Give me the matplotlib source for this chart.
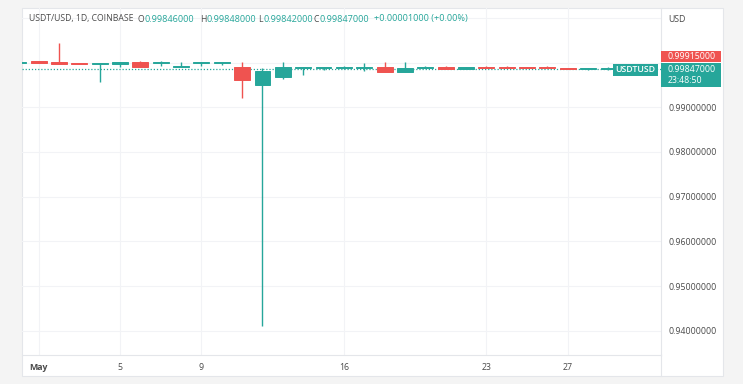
import matplotlib
matplotlib.use("Agg")
import matplotlib.pyplot as plt
from matplotlib.patches import Rectangle
import numpy as np

plt.rcParams['font.family'] = ['Open Sans', 'DejaVu Sans']

# ---- data (day of May; 0 = Apr 30) ----
days   = [0, 1, 2, 3, 4, 5, 6, 7, 8, 9, 10, 11, 12, 13, 14, 15, 16, 17, 18, 19, 20,
          21, 22, 23, 24, 25, 26, 27, 28, 29, 30]
opens  = [1.0000, 1.0004, 1.0001, 1.0000, 0.99975, 0.9996, 1.0001, 0.99995, 0.9990, 1.0000, 1.0000,
          0.9991, 0.9950, 0.99685, 0.9989, 0.9989, 0.9989, 0.9989, 0.99895, 0.99796, 0.99872,
          0.9990, 0.99857, 0.99908, 0.99908, 0.9990, 0.9990, 0.99886, 0.9985, 0.9985, 0.99846]
highs  = [1.0002, 1.0004, 1.0043, 1.0000, 1.0000, 1.0002, 1.0004, 1.0004, 1.0001, 1.0001, 1.0001,
          1.0002, 0.9989, 1.0001, 0.9990, 0.9990, 0.9992, 0.99984, 1.0001, 1.0001, 0.9993,
          0.9993, 0.9991, 0.9992, 0.9992, 0.9991, 0.9993, 0.9989, 0.9989, 0.9990, 0.99848]
lows   = [0.9999, 0.9998, 0.9997, 0.9996, 0.9957, 0.9991, 0.9990, 0.9992, 0.9990, 0.9992, 0.9994,
          0.9920, 0.9411, 0.9963, 0.9972, 0.9983, 0.9985, 0.99819, 0.99796, 0.99796, 0.99872,
          0.9986, 0.9985, 0.9988, 0.9988, 0.9987, 0.9987, 0.9985, 0.9984, 0.9984, 0.99842]
closes = [1.0002, 0.9998, 0.9997, 0.9997, 0.99998, 1.0001, 0.9990, 1.00005, 0.99915, 1.0001, 1.0001,
          0.9961, 0.9981, 0.9991, 0.99895, 0.99895, 0.99895, 0.99895, 0.99796, 0.99872, 0.99895,
          0.9986, 0.99902, 0.99886, 0.99886, 0.9988, 0.9988, 0.9985, 0.9988, 0.9989, 0.99847]

tick_days   = [1, 5, 9, 16, 23, 27]
tick_labels = ['May', '5', '9', '16', '23', '27']
price_ticks = [0.94, 0.95, 0.96, 0.97, 0.98, 0.99, 1.00, 1.01]
labeled_max = 0.99          # higher levels are hidden behind the price badges / header
prev_label  = 0.99915
countdown   = '23:48:50'
symbol      = 'USDT/USD, 1D, COINBASE'
short_sym   = 'USDTUSD'

UP = '#26a69a'
DN = '#ef5350'
GRID = '#f2f3f6'
BORDER = '#e4e6ea'
TXT = '#4a4a4a'
FS = 6.3      # axis / badge text
HFS = 6.2     # header letters
VFS = 6.6     # header numbers

W, H = 743, 384
fig = plt.figure(figsize=(W / 100, H / 100), dpi=100, facecolor='#f4f4f4')

def px_axes(x0, y0, x1, y1, **kw):
    return fig.add_axes([x0 / W, 1 - y1 / H, (x1 - x0) / W, (y1 - y0) / H], **kw)

# background container
bg = px_axes(0, 0, W, H)
bg.set_xlim(0, W); bg.set_ylim(H, 0); bg.axis('off')
bg.add_patch(Rectangle((22, 8), 701, 368, facecolor='white', edgecolor=BORDER, lw=0.8))

# main chart
ax = px_axes(22, 8, 661, 355)
ax.set_facecolor('none')
ax.set_xlim(0.184, 31.58)
ax.set_ylim(0.93459, 1.01221)

d = np.array(days, float)
o = np.array(opens); c = np.array(closes); h = np.array(highs); l = np.array(lows)
cols = [UP if ci >= oi else DN for oi, ci in zip(o, c)]
ax.vlines(d, l, h, colors=cols, lw=1.0, zorder=3)
bottoms = np.minimum(o, c)
heights = np.abs(c - o)
ax.bar(d, heights, bottom=bottoms, width=0.78, color=cols, edgecolor=cols, lw=0.7, zorder=4)

ax.axhline(closes[-1], color=UP, ls=(0, (1, 1.5)), lw=0.9, zorder=2)

ax.set_xticks(tick_days)
ax.set_xticklabels(tick_labels)
ax.get_xticklabels()[0].set_fontweight('bold')
ax.set_yticks(price_ticks)
ax.set_yticklabels([f'{v:.8f}' if v <= labeled_max + 1e-9 else '' for v in price_ticks])
ax.yaxis.tick_right()
ax.grid(True, color=GRID, lw=0.8, zorder=0)
ax.tick_params(axis='both', length=0, labelsize=FS, labelcolor=TXT)
ax.tick_params(axis='x', pad=5.5)
ax.tick_params(axis='y', pad=5.2)
for lab in ax.get_yticklabels():
    lab.set_horizontalalignment('left')
for s in ['top', 'left']:
    ax.spines[s].set_visible(False)
for s in ['right', 'bottom']:
    ax.spines[s].set_color(BORDER)
    ax.spines[s].set_linewidth(0.8)

# overlay for labels
ov = px_axes(0, 0, W, H)
ov.set_xlim(0, W); ov.set_ylim(H, 0); ov.axis('off')
ov.set_facecolor('none')
ov.plot([661, 661], [355, 376], color=BORDER, lw=0.8)

ov.text(668, 19, 'USD', fontsize=FS, color=TXT, va='center', ha='left')

# header: preferred positions, pushed right only if a previous piece would overlap
fig.canvas.draw()
renderer = fig.canvas.get_renderer()

def put(x_pref, x_min, s, color, fs):
    x = max(x_pref, x_min)
    t = ov.text(x, 19, s, fontsize=fs, color=color, va='center', ha='left')
    return x + t.get_window_extent(renderer).width

end = put(29, 0, symbol, TXT, HFS)
chg = closes[-1] - opens[-1]
pieces = [(137, 'O', TXT, HFS), (142, f'{opens[-1]:.8f}', UP, VFS),
          (200, 'H', TXT, HFS), (206, f'{highs[-1]:.8f}', UP, VFS),
          (258, 'L', TXT, HFS), (263, f'{lows[-1]:.8f}', UP, VFS),
          (312, 'C', TXT, HFS), (318, f'{closes[-1]:.8f}', UP, VFS),
          (374, f'{chg:+.8f} ({chg / opens[-1] * 100:+.2f}%)', UP, VFS)]
for xp, s, col, fs in pieces:
    end = put(xp, end + 0.5, s, col, fs)

# right price labels
ov.add_patch(Rectangle((661, 51), 60, 11, facecolor=DN, edgecolor='none'))
ov.text(668, 56.5, f'{prev_label:.8f}', fontsize=FS, color='white', va='center', ha='left')
ov.add_patch(Rectangle((661, 63), 60, 24, facecolor=UP, edgecolor='none'))
ov.text(668, 69.5, f'{closes[-1]:.8f}', fontsize=FS, color='white', va='center', ha='left')
ov.text(668, 80.5, countdown, fontsize=FS, color='white', va='center', ha='left')
ov.add_patch(Rectangle((613, 64), 45, 12, facecolor=UP, edgecolor='none'))
ov.text(635.5, 70, short_sym, fontsize=FS, color='white', va='center', ha='center',
        fontweight='semibold')

fig.savefig('out.png', dpi=100, facecolor=fig.get_facecolor())
